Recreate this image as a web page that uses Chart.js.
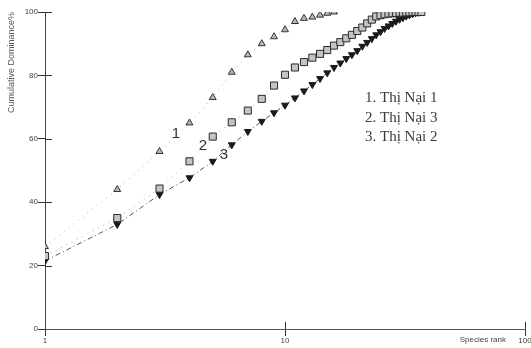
<!DOCTYPE html>
<html>
<head>
<meta charset="utf-8">
<script src="https://cdn.jsdelivr.net/npm/chart.js@4"></script>
<style>
  html, body { margin: 0; padding: 0; background: #fff; }
  #wrap { width: 531px; height: 348px; }
</style>
</head>
<body>
<div id="wrap"><canvas id="chart" width="531" height="348"></canvas></div>
<script>
// species rank (log axis)
const ranks = [1, 2, 3, 4, 5, 6, 7, 8, 9, 10, 11, 12, 13, 14, 15, 16, 17, 18, 19, 20,
  21, 22, 23, 24, 25, 26, 27, 28, 29, 30, 31, 32, 33, 34, 35, 36, 37];

// cumulative dominance %
const thiNai1 = [26, 44, 56, 65, 73, 81, 86.5, 90, 92.2, 94.4, 97, 98, 98.4, 99, 99.6, 100];
const thiNai3 = [23, 35, 44.3, 52.9, 60.7, 65.2, 68.9, 72.6, 76.8, 80.2, 82.5, 84.2, 85.6, 86.8,
  88, 89.4, 90.5, 91.7, 92.8, 94, 95.1, 96.4, 97.6, 98.6, 99, 99.3, 99.5, 99.6, 99.7, 99.8,
  99.8, 99.9, 99.9, 100, 100, 100, 100];
const thiNai2 = [21.5, 33, 42.4, 47.7, 52.9, 58.1, 62.3, 65.5, 68.2, 70.6, 72.9, 75.1, 77.1, 79,
  80.8, 82.5, 83.9, 85.3, 86.5, 87.8, 89.2, 90.4, 91.6, 92.8, 93.8, 94.8, 95.6, 96.4, 97.1, 97.7,
  98.2, 98.7, 99.1, 99.4, 99.7, 99.9, 100];

const xTicks = [1, 10, 100];
const yTicks = [0, 20, 40, 60, 80, 100];
const legendLines = ['1. Thị Nại 1', '2. Thị Nại 3', '3. Thị Nại 2'];
const curveLabels = ['1', '2', '3'];

function pts(vals) {
  return vals.map((v, i) => ({ x: ranks[i], y: v }));
}

// bits of the old figure that aren't chart.js defaults
const extras = {
  id: 'extras',
  afterDraw(chart) {
    const ctx = chart.ctx;
    const xs = chart.scales.x, ys = chart.scales.y;
    const area = chart.chartArea;
    ctx.save();
    ctx.strokeStyle = '#333';
    ctx.lineWidth = 1;
    // tick marks crossing into the plot
    yTicks.slice(1).forEach(t => {
      const y = Math.round(ys.getPixelForValue(t)) + 0.5;
      ctx.beginPath();
      ctx.moveTo(area.left, y);
      ctx.lineTo(area.left + 7, y);
      ctx.stroke();
    });
    xTicks.slice(1).forEach(t => {
      const x = Math.round(xs.getPixelForValue(t)) + 0.5;
      ctx.beginPath();
      ctx.moveTo(x, area.bottom);
      ctx.lineTo(x, area.bottom - 7);
      ctx.stroke();
    });

    // axis name at the right end
    ctx.fillStyle = '#444';
    ctx.font = '8px "Liberation Sans", Arial, sans-serif';
    ctx.textAlign = 'right';
    ctx.textBaseline = 'middle';
    ctx.fillText('Species rank', 506, 340);

    // curve numbers
    ctx.fillStyle = '#333';
    ctx.font = '15px "Liberation Sans", Arial, sans-serif';
    ctx.textAlign = 'center';
    ctx.fillText(curveLabels[0], 176, 134);
    ctx.fillText(curveLabels[1], 203, 146);
    ctx.fillText(curveLabels[2], 224, 155);

    // legend text
    ctx.fillStyle = '#3a3a3a';
    ctx.font = '15px "Liberation Serif", "Times New Roman", serif';
    ctx.textAlign = 'left';
    legendLines.forEach((s, i) => ctx.fillText(s, 365, 98 + i * 19.7));
    ctx.restore();
  }
};

new Chart(document.getElementById('chart'), {
  type: 'scatter',
  data: {
    datasets: [
      {
        label: '1. Thị Nại 1',
        data: pts(thiNai1),
        showLine: true,
        borderColor: '#aaa',
        borderWidth: 1,
        borderDash: [1, 5],
        pointStyle: 'triangle',
        pointRadius: 4,
        pointBackgroundColor: '#b8b8b8',
        pointBorderColor: '#333',
        pointBorderWidth: 1
      },
      {
        label: '2. Thị Nại 3',
        data: pts(thiNai3),
        showLine: true,
        borderColor: '#aaa',
        borderWidth: 1,
        borderDash: [1, 5],
        pointStyle: 'rect',
        pointRadius: 5,
        pointBackgroundColor: '#c4c4c4',
        pointBorderColor: '#2a2a2a',
        pointBorderWidth: 1
      },
      {
        label: '3. Thị Nại 2',
        data: pts(thiNai2),
        showLine: true,
        borderColor: '#555',
        borderWidth: 1,
        borderDash: [5, 3, 1, 3],
        pointStyle: 'triangle',
        pointRotation: 180,
        pointRadius: 4,
        pointBackgroundColor: '#1a1a1a',
        pointBorderColor: '#1a1a1a',
        pointBorderWidth: 1
      }
    ]
  },
  options: {
    responsive: false,
    animation: false,
    layout: { padding: { top: 12, right: 4, bottom: 0, left: 0 } },
    plugins: {
      legend: { display: false },
      tooltip: { enabled: false }
    },
    scales: {
      x: {
        type: 'logarithmic',
        min: 1,
        max: 100,
        afterBuildTicks: s => { s.ticks = xTicks.map(v => ({ value: v })); },
        afterFit: s => { s.height = 19; s.paddingLeft = 0; s.paddingRight = 0; },
        grid: { drawOnChartArea: false, drawTicks: true, tickLength: 7, color: '#333' },
        border: { color: '#555', width: 1 },
        ticks: {
          padding: 0,
          autoSkip: false,
          maxRotation: 0,
          color: '#444',
          font: { family: '"Liberation Sans", Arial, sans-serif', size: 8 },
          callback: v => String(v)
        }
      },
      y: {
        min: 0,
        max: 100,
        afterBuildTicks: s => { s.ticks = yTicks.map(v => ({ value: v })); },
        afterFit: s => { s.width = 45; s.paddingTop = 0; s.paddingBottom = 0; },
        grid: { drawOnChartArea: false, drawTicks: true, tickLength: 7, color: '#333' },
        border: { color: '#444', width: 1 },
        ticks: {
          padding: 0,
          color: '#444',
          font: { family: '"Liberation Sans", Arial, sans-serif', size: 8 }
        },
        title: {
          display: true,
          text: 'Cumulative Dominance%',
          align: 'end',
          color: '#555',
          padding: { top: 6, bottom: 0 },
          font: { family: '"Liberation Sans", Arial, sans-serif', size: 9 }
        }
      }
    }
  },
  plugins: [extras]
});
</script>
</body>
</html>
